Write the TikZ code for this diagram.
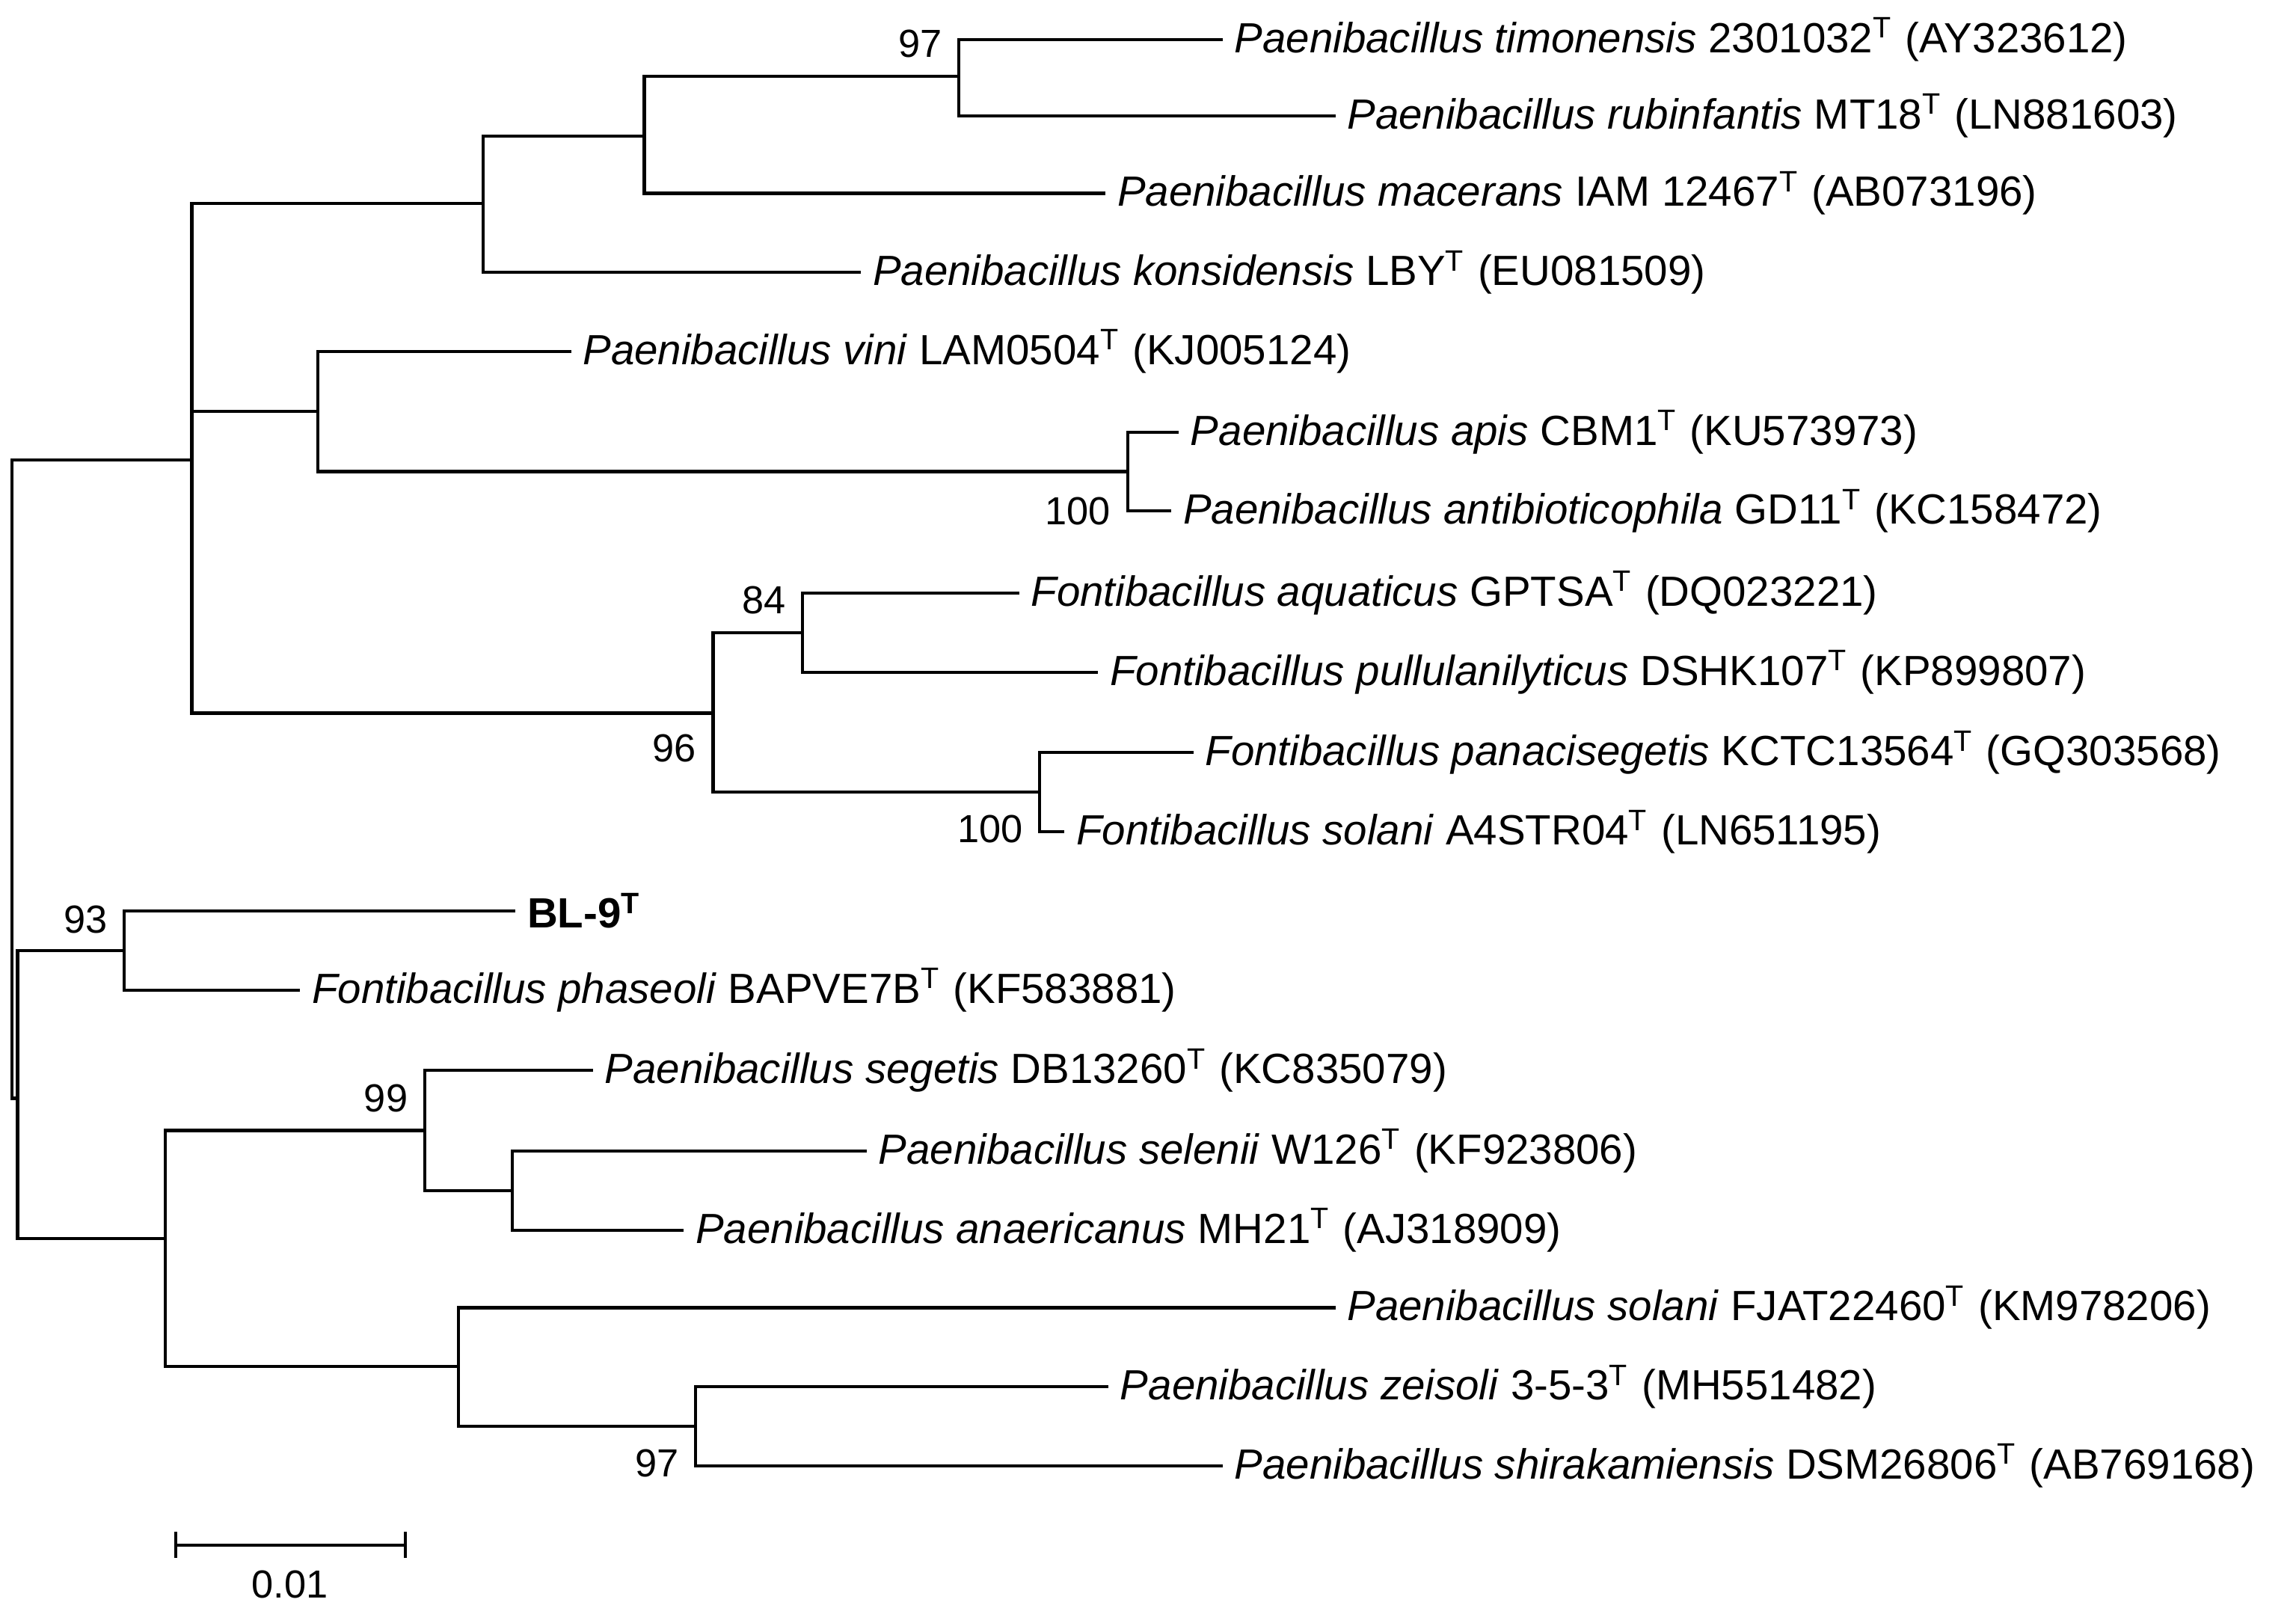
\documentclass[tikz,border=0pt]{standalone}
\usepackage{fontspec}
\setmainfont{Liberation Sans}
\begin{document}
\begin{tikzpicture}[x=0.01cm,y=-0.01cm,line width=0.6pt,
  lf/.style={anchor=west,inner sep=2pt,font=\fontsize{8.2}{10}\selectfont},
  bs/.style={inner sep=1pt,font=\fontsize{7.6}{9}\selectfont}]
\useasboundingbox (0,0) rectangle (1568,1102);
\newcommand{\leaf}[4]{\coordinate (#1) at (#2,#3); \node[lf] (t#1) at (#1) {#4};}
\newcommand{\T}{\textsuperscript{T}}
% internal nodes
\coordinate (r) at (8,530);
\coordinate (up) at (131,314);
\coordinate (lo) at (12,750);
\coordinate (a) at (330,139);
\coordinate (b) at (440,93);
\coordinate (c) at (655,52);
\coordinate (d) at (217,281);
\coordinate (e) at (770,322);
\coordinate (f) at (487,487);
\coordinate (g) at (548,432);
\coordinate (h) at (710,541);
\coordinate (i) at (85,649);
\coordinate (j) at (113,846);
\coordinate (k) at (290,772);
\coordinate (m) at (350,813);
\coordinate (n) at (313,933);
\coordinate (o) at (475,974);
% leaves
\leaf{l1}{835}{27}{\textit{Paenibacillus timonensis} 2301032\T\ (AY323612)}
\leaf{l2}{912}{79}{\textit{Paenibacillus rubinfantis} MT18\T\ (LN881603)}
\leaf{l3}{755}{132}{\textit{Paenibacillus macerans} IAM 12467\T\ (AB073196)}
\leaf{l4}{588}{186}{\textit{Paenibacillus konsidensis} LBY\T\ (EU081509)}
\leaf{l5}{390}{240}{\textit{Paenibacillus vini} LAM0504\T\ (KJ005124)}
\leaf{l6}{805}{295}{\textit{Paenibacillus apis} CBM1\T\ (KU573973)}
\leaf{l7}{800}{349}{\textit{Paenibacillus antibioticophila} GD11\T\ (KC158472)}
\leaf{l8}{696}{405}{\textit{Fontibacillus aquaticus} GPTSA\T\ (DQ023221)}
\leaf{l9}{750}{459}{\textit{Fontibacillus pullulanilyticus} DSHK107\T\ (KP899807)}
\leaf{l10}{815}{514}{\textit{Fontibacillus panacisegetis} KCTC13564\T\ (GQ303568)}
\leaf{l11}{727}{568}{\textit{Fontibacillus solani} A4STR04\T\ (LN651195)}
\leaf{l12}{352}{622}{\textbf{BL-9\T}}
\leaf{l13}{205}{676}{\textit{Fontibacillus phaseoli} BAPVE7B\T\ (KF583881)}
\leaf{l14}{405}{731}{\textit{Paenibacillus segetis} DB13260\T\ (KC835079)}
\leaf{l15}{592}{786}{\textit{Paenibacillus selenii} W126\T\ (KF923806)}
\leaf{l16}{467}{840}{\textit{Paenibacillus anaericanus} MH21\T\ (AJ318909)}
\leaf{l17}{912}{893}{\textit{Paenibacillus solani} FJAT22460\T\ (KM978206)}
\leaf{l18}{757}{947}{\textit{Paenibacillus zeisoli} 3-5-3\T\ (MH551482)}
\leaf{l19}{835}{1001}{\textit{Paenibacillus shirakamiensis} DSM26806\T\ (AB769168)}
% edges
\draw (r) |- (up); \draw (r) |- (lo);
\draw (up) |- (a); \draw (up) |- (d); \draw (up) |- (f);
\draw (a) |- (b); \draw (a) |- (l4);
\draw (b) |- (c); \draw (b) |- (l3);
\draw (c) |- (l1); \draw (c) |- (l2);
\draw (d) |- (l5); \draw (d) |- (e);
\draw (e) |- (l6); \draw (e) |- (l7);
\draw (f) |- (g); \draw (f) |- (h);
\draw (g) |- (l8); \draw (g) |- (l9);
\draw (h) |- (l10); \draw (h) |- (l11);
\draw (lo) |- (i); \draw (lo) |- (j);
\draw (i) |- (l12); \draw (i) |- (l13);
\draw (j) |- (k); \draw (j) |- (n);
\draw (k) |- (l14); \draw (k) |- (m);
\draw (m) |- (l15); \draw (m) |- (l16);
\draw (n) |- (l17); \draw (n) |- (o);
\draw (o) |- (l18); \draw (o) |- (l19);
% bootstrap
\node[bs,anchor=south east] (b1) at (648,44) {97};
\node[bs,anchor=north east] (b2) at (763,335) {100};
\node[bs,anchor=south east] (b3) at (541,424) {84};
\node[bs,anchor=north east] (b4) at (480,497) {96};
\node[bs,anchor=north east] (b5) at (703,552) {100};
\node[bs,anchor=south east] (b6) at (78,642) {93};
\node[bs,anchor=south east] (b7) at (283,764) {99};
\node[bs,anchor=north east] (b8) at (468,985) {97};
% scale bar
\coordinate (s1) at (120,1055); \coordinate (s2) at (277,1055);
\draw (s1) -- (s2);
\draw ([yshift=-0.09cm]s1) -- ([yshift=0.09cm]s1);
\draw ([yshift=-0.09cm]s2) -- ([yshift=0.09cm]s2);
\node[bs] (sl) at (198,1082) {0.01};
\end{tikzpicture}
\end{document}
